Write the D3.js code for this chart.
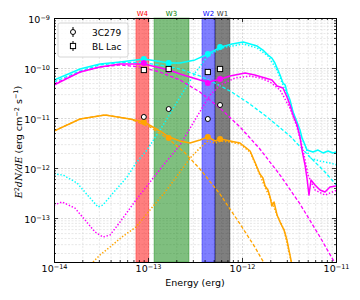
<!DOCTYPE html>
<html>
<head>
<meta charset="utf-8">
<script src="https://cdn.jsdelivr.net/npm/d3@7"></script>
<style>
body { margin: 0; background: #fff; }
svg text { font-family: "DejaVu Sans", sans-serif; }
</style>
</head>
<body>
<script>
// WISE bands (erg)
var bandNames  = ["W4", "W3", "W2", "W1"];
var bandColors = ["red", "green", "blue", "black"];
var bandLo     = [7.44e-14, 1.16e-13, 3.75e-13, 5.16e-13];
var bandHi     = [1.02e-13, 2.73e-13, 5.16e-13, 7.44e-13];
var bandEnergy = [9.03e-14, 1.66e-13, 4.33e-13, 5.84e-13];

// observed WISE fluxes
var flux3C279 = [1.05e-11, 1.51e-11, 9.55e-12, 1.82e-11];
var fluxBLLac = [9.12e-11, 9.55e-11, 8.32e-11, 9.55e-11];

// model fluxes at the bands
var cyanBand    = [1.51e-10, 1.26e-10, 1.91e-10, 2.63e-10];
var magentaBand = [1.26e-10, 9.12e-11, 5.01e-11, 6.03e-11];
var orangeBand  = [8.32e-12, 3.98e-12, 4.17e-12, 3.80e-12];

// cyan model [E, E2dN/dE]
var cyanTotal = [[1.00e-14,5.75e-11],[1.89e-14,9.55e-11],[3.08e-14,1.20e-10],[5.04e-14,1.32e-10],
  [9.06e-14,1.51e-10],[1.67e-13,1.26e-10],[2.19e-13,1.26e-10],[3.16e-13,1.45e-10],[4.35e-13,1.91e-10],
  [5.98e-13,2.63e-10],[7.83e-13,3.02e-10],[1.03e-12,3.31e-10],[1.22e-12,3.02e-10],[1.45e-12,2.75e-10],
  [1.67e-12,2.29e-10],[1.89e-12,1.82e-10],[2.08e-12,1.58e-10],[2.24e-12,1.26e-10],[2.36e-12,1.00e-10],
  [2.54e-12,7.24e-11],[2.73e-12,5.01e-11],[2.88e-12,4.57e-11],[3.01e-12,3.31e-11],[3.24e-12,2.29e-11],
  [3.49e-12,1.32e-11],[3.85e-12,8.32e-12],[4.14e-12,5.75e-12],[4.35e-12,3.98e-12],[4.68e-12,2.88e-12],
  [4.91e-12,2.29e-12],[5.69e-12,2.09e-12],[6.44e-12,2.29e-12],[7.28e-12,2.00e-12],[8.22e-12,2.19e-12],
  [9.29e-12,2.00e-12],[1.00e-11,2.09e-12]];
var cyanJet = [[1.00e-14,5.25e-11],[1.89e-14,8.71e-11],[3.08e-14,1.15e-10],[5.04e-14,1.29e-10],
  [8.22e-14,1.29e-10],[1.34e-13,1.15e-10],[2.19e-13,9.55e-11],[3.57e-13,6.92e-11],[4.91e-13,5.25e-11],
  [7.45e-13,3.47e-11],[1.13e-12,2.09e-11],[1.85e-12,1.05e-11],[3.24e-12,4.37e-12],[5.28e-12,1.66e-12],
  [7.64e-12,8.32e-13],[1.03e-11,4.37e-13]];
var cyanHost = [[1.00e-14,7.59e-13],[1.25e-14,7.24e-13],[1.76e-14,5.01e-13],[2.42e-14,2.51e-13],
  [2.94e-14,1.66e-13],[3.32e-14,1.82e-13],[4.25e-14,3.16e-13],[5.98e-14,6.61e-13],[7.45e-14,1.26e-12],
  [9.75e-14,2.29e-12],[1.52e-13,8.32e-12],[2.19e-13,2.63e-11],[3.16e-13,7.94e-11],[4.35e-13,1.74e-10],
  [5.98e-13,2.51e-10],[1.03e-12,3.02e-10],[1.45e-12,2.51e-10],[1.89e-12,1.74e-10],[2.36e-12,9.12e-11],
  [2.73e-12,4.57e-11],[3.24e-12,2.09e-11],[3.85e-12,7.24e-12],[4.35e-12,3.98e-12],[5.28e-12,1.58e-12],
  [6.76e-12,1.38e-12],[8.63e-12,1.26e-12],[1.03e-11,1.15e-12]];

// magenta model
var magentaTotal = [[1.00e-14,4.57e-11],[1.89e-14,8.32e-11],[3.08e-14,1.05e-10],[5.04e-14,1.20e-10],
  [9.06e-14,1.20e-10],[1.67e-13,9.12e-11],[2.19e-13,7.59e-11],[3.57e-13,5.75e-11],[4.35e-13,5.25e-11],
  [5.98e-13,6.03e-11],[7.45e-13,6.92e-11],[1.08e-12,7.94e-11],[1.37e-12,7.24e-11],[1.76e-12,6.31e-11],
  [2.08e-12,5.75e-11],[2.36e-12,4.37e-11],[2.73e-12,3.98e-11],[3.01e-12,2.63e-11],[3.24e-12,1.82e-11],
  [3.49e-12,1.15e-11],[3.85e-12,7.24e-12],[4.14e-12,4.17e-12],[4.35e-12,2.29e-12],[4.68e-12,1.15e-12],
  [4.91e-12,6.31e-13],[5.16e-12,2.88e-13],[5.42e-12,5.75e-13],[5.98e-12,4.57e-13],[6.76e-12,3.63e-13],
  [7.64e-12,3.31e-13],[8.63e-12,4.17e-13],[1.00e-11,4.37e-13]];
var magentaJet = [[1.00e-14,4.79e-11],[1.89e-14,8.32e-11],[3.08e-14,1.05e-10],[5.04e-14,1.15e-10],
  [8.22e-14,1.05e-10],[1.34e-13,8.32e-11],[2.19e-13,5.75e-11],[3.57e-13,3.31e-11],[5.83e-13,1.58e-11],
  [9.53e-13,6.61e-12],[1.55e-12,2.40e-12],[2.54e-12,7.24e-13],[4.14e-12,1.91e-13],[6.76e-12,4.17e-14],
  [1.00e-11,1.15e-14]];
var magentaHost = [[1.00e-14,1.82e-13],[1.22e-14,2.09e-13],[1.67e-14,1.58e-13],[2.14e-14,9.12e-14],
  [2.73e-14,5.25e-14],[3.32e-14,4.17e-14],[3.94e-14,4.57e-14],[5.04e-14,8.32e-14],[7.45e-14,2.29e-13],
  [1.05e-13,5.25e-13],[1.52e-13,1.26e-12],[2.19e-13,2.88e-12],[3.16e-13,9.12e-12],[4.57e-13,2.88e-11],
  [5.83e-13,4.57e-11],[8.43e-13,6.31e-11],[1.22e-12,6.92e-11],[1.55e-12,6.31e-11],[1.99e-12,5.25e-11],
  [2.54e-12,3.63e-11],[3.24e-12,1.58e-11],[3.85e-12,6.61e-12],[4.46e-12,2.29e-12],[5.04e-12,7.24e-13],
  [5.98e-12,3.63e-13],[7.64e-12,2.88e-13],[1.03e-11,3.63e-13]];

// orange model
var orangeTotal = [[1.00e-14,5.50e-12],[1.89e-14,9.55e-12],[3.49e-14,1.15e-11],[6.44e-14,9.55e-12],
  [9.06e-14,8.32e-12],[1.34e-13,5.50e-12],[1.67e-13,4.17e-12],[2.19e-13,3.47e-12],[2.80e-13,3.16e-12],
  [3.57e-13,3.63e-12],[4.35e-13,4.17e-12],[5.16e-13,3.47e-12],[5.98e-13,3.80e-12],[7.45e-13,3.47e-12],
  [9.53e-13,3.16e-12],[1.08e-12,2.63e-12],[1.22e-12,2.19e-12],[1.37e-12,1.32e-12],[1.55e-12,7.59e-13],
  [1.67e-12,6.31e-13],[1.76e-12,4.37e-13],[1.89e-12,3.63e-13],[1.99e-12,2.63e-13],[2.08e-12,1.74e-13],
  [2.19e-12,2.09e-13],[2.36e-12,1.15e-13],[2.54e-12,8.32e-14],[2.80e-12,5.75e-14],[3.01e-12,3.63e-14],
  [3.24e-12,1.82e-14],[3.40e-12,1.15e-14]];
var orangeJet = [[1.00e-14,5.50e-12],[1.89e-14,9.55e-12],[3.49e-14,1.15e-11],[6.44e-14,9.55e-12],
  [1.05e-13,6.61e-12],[1.71e-13,3.63e-12],[2.48e-13,2.00e-12],[3.57e-13,9.55e-13],[5.83e-13,3.02e-13],
  [9.53e-13,7.59e-14],[1.37e-12,2.63e-14],[1.76e-12,1.15e-14]];
var orangeHost = [[2.60e-14,1.32e-14],[3.08e-14,1.82e-14],[3.94e-14,2.63e-14],[5.28e-14,4.17e-14],
  [7.45e-14,6.61e-14],[1.05e-13,1.45e-13],[1.52e-13,3.31e-13],[2.19e-13,8.32e-13],[2.80e-13,1.58e-12],
  [3.57e-13,2.51e-12],[4.35e-13,3.47e-12],[5.16e-13,3.16e-12],[5.98e-13,3.47e-12],[7.45e-13,3.31e-12],
  [9.53e-13,3.02e-12],[1.08e-12,2.51e-12],[1.22e-12,2.09e-12],[1.37e-12,1.26e-12],[1.55e-12,7.24e-13],
  [1.76e-12,4.17e-13],[1.99e-12,2.51e-13],[2.36e-12,1.15e-13],[2.80e-12,5.75e-14],[3.40e-12,1.15e-14]];

var legendNames = ["3C279", "BL Lac"];

var svgW = 360, svgH = 300;
var pLeft = 54, pRight = 336, pTop = 18, pBottom = 262;

var xScale = d3.scaleLog().domain([1e-14, 1e-11]).range([pLeft, pRight]);
var yScale = d3.scaleLog().domain([1.32e-14, 1e-9]).range([pBottom, pTop]);

var svg = d3.select("body").append("svg")
            .attr("width", svgW)
            .attr("height", svgH);

// tick values
var xMajor = [1e-14, 1e-13, 1e-12, 1e-11];
var yMajor = [1e-13, 1e-12, 1e-11, 1e-10, 1e-9];
var xMinor = [], yMinor = [];
for (var k = -14; k <= -12; k++) for (var m = 2; m <= 9; m++) xMinor.push(m * Math.pow(10, k));
for (var k = -14; k <= -10; k++) for (var m = 2; m <= 9; m++) {
  var v = m * Math.pow(10, k);
  if (v >= 1.32e-14) yMinor.push(v);
}

/* ---------- grid ---------- */
function grid(axis, tr, vals, col) {
  svg.append("g")
     .attr("transform", tr)
     .call(axis.tickValues(vals).tickFormat(""))
     .call(function (g) { g.select(".domain").remove(); })
     .selectAll("line")
     .attr("stroke", col)
     .attr("stroke-width", 0.6)
     .attr("stroke-dasharray", "2,1.5");
}
grid(d3.axisBottom(xScale).tickSize(-(pBottom - pTop)), "translate(0," + pBottom + ")", xMinor, "#d6d6d6");
grid(d3.axisLeft(yScale).tickSize(-(pRight - pLeft)), "translate(" + pLeft + ",0)", yMinor, "#d6d6d6");
grid(d3.axisBottom(xScale).tickSize(-(pBottom - pTop)), "translate(0," + pBottom + ")", xMajor, "#bdbdbd");
grid(d3.axisLeft(yScale).tickSize(-(pRight - pLeft)), "translate(" + pLeft + ",0)", yMajor, "#bdbdbd");

/* ---------- bands ---------- */
svg.selectAll("rect.band")
   .data(bandNames)
   .enter()
   .append("rect")
   .attr("class", "band")
   .attr("x", function (d, i) { return xScale(bandLo[i]); })
   .attr("width", function (d, i) { return xScale(bandHi[i]) - xScale(bandLo[i]); })
   .attr("y", pTop)
   .attr("height", pBottom - pTop)
   .attr("fill", function (d, i) { return bandColors[i]; })
   .attr("fill-opacity", 0.5)
   .attr("stroke", function (d, i) { return bandColors[i]; })
   .attr("stroke-opacity", 0.35)
   .attr("stroke-width", 1);

svg.selectAll("text.bandLabel")
   .data(bandNames)
   .enter()
   .append("text")
   .attr("x", function (d, i) { return (xScale(bandLo[i]) + xScale(bandHi[i])) / 2; })
   .attr("y", 15.5)
   .attr("text-anchor", "middle")
   .attr("font-size", "7px")
   .attr("fill", function (d, i) { return i == 3 ? "#333" : bandColors[i]; })
   .text(function (d) { return d; });

/* ---------- curves ---------- */
svg.append("clipPath").attr("id", "plotClip")
   .append("rect")
   .attr("x", pLeft).attr("y", pTop)
   .attr("width", pRight - pLeft).attr("height", pBottom - pTop);

var line = d3.line()
             .x(function (d) { return xScale(d[0]); })
             .y(function (d) { return yScale(d[1]); });

var curves = svg.append("g").attr("clip-path", "url(#plotClip)");

var models = [
  { color: "#00ffff", total: cyanTotal, jet: cyanJet, host: cyanHost, band: cyanBand },
  { color: "#ff00ff", total: magentaTotal, jet: magentaJet, host: magentaHost, band: magentaBand },
  { color: "#ffa500", total: orangeTotal, jet: orangeJet, host: orangeHost, band: orangeBand }
];

models.forEach(function (mo) {
  curves.append("path").datum(mo.host)
        .attr("d", line).attr("fill", "none")
        .attr("stroke", mo.color).attr("stroke-width", 1.5)
        .attr("stroke-dasharray", "1.4,1.8");
  curves.append("path").datum(mo.jet)
        .attr("d", line).attr("fill", "none")
        .attr("stroke", mo.color).attr("stroke-width", 1.3)
        .attr("stroke-dasharray", "3.5,2");
  curves.append("path").datum(mo.total)
        .attr("d", line).attr("fill", "none")
        .attr("stroke", mo.color).attr("stroke-width", 1.5)
        .attr("stroke-linejoin", "round");
});

models.forEach(function (mo) {
  curves.selectAll(null)
        .data(mo.band)
        .enter()
        .append("circle")
        .attr("cx", function (d, i) { return xScale(bandEnergy[i]); })
        .attr("cy", function (d) { return yScale(d); })
        .attr("r", 3)
        .attr("fill", mo.color);
});

/* ---------- observed points ---------- */
svg.selectAll("circle.obs")
   .data(flux3C279)
   .enter()
   .append("circle")
   .attr("cx", function (d, i) { return xScale(bandEnergy[i]); })
   .attr("cy", function (d) { return yScale(d); })
   .attr("r", 2.5)
   .attr("fill", "white")
   .attr("stroke", "black")
   .attr("stroke-width", 1);

svg.selectAll("rect.obs")
   .data(fluxBLLac)
   .enter()
   .append("rect")
   .attr("x", function (d, i) { return xScale(bandEnergy[i]) - 2.6; })
   .attr("y", function (d) { return yScale(d) - 2.6; })
   .attr("width", 5.2)
   .attr("height", 5.2)
   .attr("fill", "white")
   .attr("stroke", "black")
   .attr("stroke-width", 1);

/* ---------- axes (ticks inward on all sides) ---------- */
function expLabel(sel) {
  sel.selectAll(".tick text").each(function (d) {
    var t = d3.select(this);
    var e = Math.round(-Math.log10(d));
    t.text("10");
    t.append("tspan").attr("dy", "-0.5em").attr("font-size", "6.5px").text("\u2212" + e);
  });
}

function styleAxis(g) {
  g.select(".domain").attr("stroke", "black").attr("stroke-width", 1);
  g.selectAll(".tick line").attr("stroke", "black").attr("stroke-width", 0.8);
}

var bottomAxis = svg.append("g").attr("transform", "translate(0," + pBottom + ")")
   .call(d3.axisBottom(xScale).tickValues(xMajor).tickSizeInner(-4).tickSizeOuter(0).tickPadding(3.5))
   .call(styleAxis);
bottomAxis.selectAll("text").attr("font-size", "9.5px").attr("fill", "black");
bottomAxis.call(expLabel);

svg.append("g").attr("transform", "translate(0," + pBottom + ")")
   .call(d3.axisBottom(xScale).tickValues(xMinor).tickSizeInner(-2).tickSizeOuter(0).tickFormat(""))
   .call(styleAxis);

var leftAxis = svg.append("g").attr("transform", "translate(" + pLeft + ",0)")
   .call(d3.axisLeft(yScale).tickValues(yMajor).tickSizeInner(-4).tickSizeOuter(0).tickPadding(4))
   .call(styleAxis);
leftAxis.selectAll("text").attr("font-size", "9.5px").attr("fill", "black").attr("dy", "0.5em");
leftAxis.call(expLabel);

svg.append("g").attr("transform", "translate(" + pLeft + ",0)")
   .call(d3.axisLeft(yScale).tickValues(yMinor).tickSizeInner(-2).tickSizeOuter(0).tickFormat(""))
   .call(styleAxis);

svg.append("g").attr("transform", "translate(0," + pTop + ")")
   .call(d3.axisTop(xScale).tickValues(xMajor).tickSizeInner(-4).tickSizeOuter(0).tickFormat(""))
   .call(styleAxis);
svg.append("g").attr("transform", "translate(0," + pTop + ")")
   .call(d3.axisTop(xScale).tickValues(xMinor).tickSizeInner(-2).tickSizeOuter(0).tickFormat(""))
   .call(styleAxis);
svg.append("g").attr("transform", "translate(" + pRight + ",0)")
   .call(d3.axisRight(yScale).tickValues(yMajor).tickSizeInner(-4).tickSizeOuter(0).tickFormat(""))
   .call(styleAxis);
svg.append("g").attr("transform", "translate(" + pRight + ",0)")
   .call(d3.axisRight(yScale).tickValues(yMinor).tickSizeInner(-2).tickSizeOuter(0).tickFormat(""))
   .call(styleAxis);

/* ---------- axis labels ---------- */
svg.append("text")
   .attr("x", (pLeft + pRight) / 2)
   .attr("y", 286)
   .attr("text-anchor", "middle")
   .attr("font-size", "9.5px")
   .text("Energy (erg)");

var yLab = svg.append("text")
   .attr("transform", "translate(22,142) rotate(-90)")
   .attr("text-anchor", "middle")
   .attr("font-size", "9.5px");
yLab.append("tspan").attr("font-family", "DejaVu Serif").attr("font-style", "italic").text("E");
yLab.append("tspan").attr("font-size", "6.5px").attr("dy", "-0.5em").text("2");
yLab.append("tspan").attr("font-family", "DejaVu Serif").attr("font-style", "italic").attr("dy", "0.32em").text("dN/dE");
yLab.append("tspan").text(" (erg cm");
yLab.append("tspan").attr("font-size", "6.5px").attr("dy", "-0.5em").text("\u22122");
yLab.append("tspan").attr("dy", "0.32em").text(" s");
yLab.append("tspan").attr("font-size", "6.5px").attr("dy", "-0.5em").text("\u22121");
yLab.append("tspan").attr("dy", "0.32em").text(")");

/* ---------- legend ---------- */
var legend = svg.append("g");
legend.append("rect")
      .attr("x", 58).attr("y", 23)
      .attr("width", 70).attr("height", 34)
      .attr("rx", 2)
      .attr("fill", "white").attr("fill-opacity", 0.85)
      .attr("stroke", "#cccccc").attr("stroke-width", 0.8);

var entries = legend.selectAll("g.entry")
      .data(legendNames)
      .enter()
      .append("g")
      .attr("transform", function (d, i) { return "translate(73," + (32 + i * 14) + ")"; });
entries.append("line")
       .attr("x1", 0).attr("x2", 0).attr("y1", -5).attr("y2", 5)
       .attr("stroke", "black").attr("stroke-width", 1);
entries.filter(function (d, i) { return i == 0; })
       .append("circle").attr("r", 2.5)
       .attr("fill", "white").attr("stroke", "black");
entries.filter(function (d, i) { return i == 1; })
       .append("rect").attr("x", -2.6).attr("y", -2.6).attr("width", 5.2).attr("height", 5.2)
       .attr("fill", "white").attr("stroke", "black");
entries.append("text")
       .attr("x", 19).attr("y", 3.5)
       .attr("font-size", "9px")
       .text(function (d) { return d; });
</script>
</body>
</html>
